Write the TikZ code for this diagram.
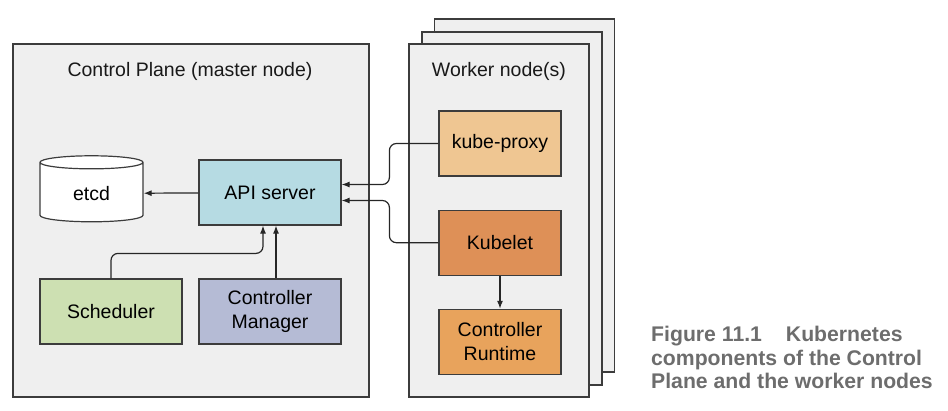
\documentclass[tikz,border=0pt]{standalone}
\usepackage{fontspec}
\setmainfont{Liberation Sans}
\usepackage{xcolor}
\usetikzlibrary{shapes.geometric, arrows.meta, positioning, calc}
\definecolor{PlaneGray}{HTML}{EFEFEF}
\definecolor{EdgeGray}{HTML}{3C3C3C}
\definecolor{ApiBlue}{HTML}{B6DBE3}
\definecolor{SchedGreen}{HTML}{CDE0B2}
\definecolor{MgrLilac}{HTML}{B5BBD5}
\definecolor{ProxyTan}{HTML}{EFC692}
\definecolor{KubeletOrange}{HTML}{DE9057}
\definecolor{RuntimeOrange}{HTML}{E8A35C}
\definecolor{CaptionGray}{HTML}{6D6D6D}
\tikzset{
    planebox/.style={rectangle, minimum width=356pt, minimum height=353pt,
        draw=EdgeGray, line width=1.2pt, fill=PlaneGray},
    workerbox/.style={rectangle, minimum width=180pt, minimum height=353pt,
        draw=EdgeGray, line width=1.2pt, fill=PlaneGray},
    compbox/.style={rectangle, minimum width=142pt, minimum height=65pt,
        text centered, align=center, draw=EdgeGray, line width=1.2pt,
        font=\fontsize{19.5}{24}\selectfont},
    titletext/.style={font=\fontsize{19.5}{24}\selectfont, text=black!90},
    dbshape/.style={cylinder, shape border rotate=90, aspect=0.3,
        minimum width=103pt, minimum height=66pt, draw=EdgeGray, line width=1.2pt,
        fill=white, font=\fontsize{19.5}{24}\selectfont},
    apiarrow/.style={-{Latex[length=8pt, width=6pt]}, line width=1.2pt, draw=black!85},
}
\begin{document}
\begin{tikzpicture}[x=1pt, y=-1pt]
    \useasboundingbox (0,0) rectangle (948,410);

    \node[planebox] (plane) at (191,220.5) {};
    \node[titletext] (planetitle) at (190,71) {Control Plane (master node)};

    \node[workerbox] (worker3) at (524.5,195.5) {};
    \node[workerbox] (worker2) at (512,208.5) {};
    \node[workerbox] (worker) at (499,220.5) {};
    \node[titletext] (workertitle) at (499,71) {Worker node(s)};

    \node[dbshape] (etcd) at (91.5,193.5) {etcd};
    \node[compbox, fill=ApiBlue] (api) at (270,192.5) {API server};
    \node[compbox, fill=SchedGreen] (sched) at (111,311.5) {Scheduler};
    \node[compbox, fill=MgrLilac] (mgr) at (270,311.5) {Controller\\Manager};

    \node[compbox, fill=ProxyTan, minimum width=122pt] (proxy) at (500,143.5) {kube-proxy};
    \node[compbox, fill=KubeletOrange, minimum width=122pt, below=33pt of proxy] (kubelet) {Kubelet};
    \node[compbox, fill=RuntimeOrange, minimum width=122pt, below=33pt of kubelet] (runtime) {Controller\\Runtime};

    \draw[apiarrow] (api) -- (etcd);
    \draw[apiarrow, rounded corners=7pt] (sched.north) -- ++(0,-25) -| ([xshift=-7pt]api.south);
    \draw[apiarrow] ([xshift=6pt]mgr.north) -- ([xshift=6pt]api.south);
    \draw[apiarrow, rounded corners=7pt] (proxy.west) -- ++(-49,0) |- ([yshift=8pt]api.east);
    \draw[apiarrow, rounded corners=7pt] (kubelet.west) -- ++(-49,0) |- ([yshift=-8pt]api.east);
    \draw[apiarrow] (kubelet) -- (runtime);

    \node[anchor=north west, align=left, inner sep=0pt, text=CaptionGray,
        font=\fontsize{21.2}{23.5}\selectfont\bfseries] (caption) at (651,326)
        {Figure 11.1\hspace{24pt}Kubernetes\\components of the Control\\Plane and the worker nodes};
\end{tikzpicture}
\end{document}
